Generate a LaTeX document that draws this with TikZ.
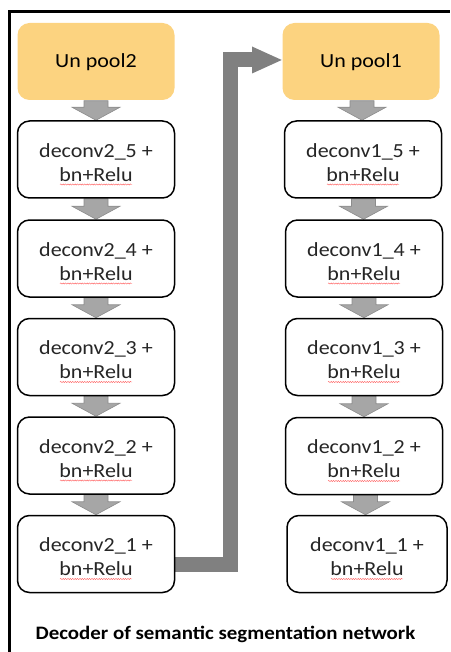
\documentclass[tikz,border=0pt]{standalone}
\usepackage{fontspec}
\setmainfont{Carlito}[FakeStretch=1.1]
\usetikzlibrary{calc,backgrounds,decorations.pathmorphing}
\definecolor{pool}{RGB}{252,211,128}
\definecolor{txt}{RGB}{38,38,38}
\definecolor{sarrow}{RGB}{166,166,166}
\definecolor{sarrowline}{RGB}{140,140,140}
\definecolor{barrow}{RGB}{128,128,128}
\newcommand\dnarrow[2]{%
  \filldraw[smallarrow] let \p1=(#1.south), \p2=(#2.north), \p3=($(#1.south)!0.5!(#2.north)$) in
   (\x3-12pt,\y1) -- (\x3+12pt,\y1) -- (\x3+12pt,\y2+13pt) -- (\x3+24pt,\y2+13pt)
   -- (\x3,\y2) -- (\x3-24pt,\y2+13pt) -- (\x3-12pt,\y2+13pt) -- cycle;}
\newcommand\twolines[2]{\rule{0pt}{20pt}#1\\#2}
\begin{document}
\begin{tikzpicture}[x=1pt,y=-1pt,
  box/.style={draw=black, line width=1.5pt, rounded corners=12pt, fill=white,
    minimum width=157pt, minimum height=77pt, inner sep=0pt, align=center,
    text=txt, font=\fontsize{20}{24}\selectfont},
  poolbox/.style={box, draw=none, fill=pool, text=black},
  smallarrow/.style={fill=sarrow, draw=sarrowline, line width=0.6pt},
  bigshaft/.style={draw=barrow, line width=15pt, line join=miter},
  squig/.style={draw=red!65, line width=0.4pt, decorate,
    decoration={snake, amplitude=0.6pt, segment length=2.4pt}}]
\useasboundingbox (0,0) rectangle (450,652);
\draw[line width=3pt, line join=miter] (9,652) -- (9,11.5) -- (450,11.5);
% left column
\node[poolbox] (u2) at (96,61.5) {\rule{0pt}{16pt}Un pool2};
\node[box] (a5) at (96,159.5) {\twolines{deconv2\_5 +}{bn+Relu}};
\node[box] (a4) at (96,258.5) {\twolines{deconv2\_4 +}{bn+Relu}};
\node[box] (a3) at (96,357) {\twolines{deconv2\_3 +}{bn+Relu}};
\node[box] (a2) at (96,455.5) {\twolines{deconv2\_2 +}{bn+Relu}};
\node[box] (a1) at (96,554) {\twolines{deconv2\_1 +}{bn+Relu}};
% right column
\node[poolbox] (u1) at (361,61.5) {\rule{0pt}{16pt}Un pool1};
\node[box] (b5) at (363,159.5) {\twolines{deconv1\_5 +}{bn+Relu}};
\node[box] (b4) at (364,258.5) {\twolines{deconv1\_4 +}{bn+Relu}};
\node[box] (b3) at (364,357) {\twolines{deconv1\_3 +}{bn+Relu}};
\node[box] (b2) at (364,456) {\twolines{deconv1\_2 +}{bn+Relu}};
\node[box, minimum width=160pt] (b1) at (367,554) {\twolines{deconv1\_1 +}{bn+Relu}};
% spell-check squiggles
\foreach \n in {a5,a4,a3,a2,a1,b5,b4,b3,b2,b1}
  \draw[squig] ($(\n.center)+(-36,25)$) -- ++(72,0);
% caption
\node[font=\bfseries\fontsize{19}{23}\selectfont, anchor=base] (cap) at (225.5,639.3)
  {Decoder of semantic segmentation network};
\begin{scope}[on background layer]
  \dnarrow{u2}{a5}\dnarrow{a5}{a4}\dnarrow{a4}{a3}\dnarrow{a3}{a2}\dnarrow{a2}{a1}
  \dnarrow{u1}{b5}\dnarrow{b5}{b4}\dnarrow{b4}{b3}\dnarrow{b3}{b2}\dnarrow{b2}{b1}
  \coordinate (bend) at (230,60);
  \coordinate (hb) at (253,60);
  \draw[bigshaft] ([yshift=-10pt]a1.east) -| (bend) -- (hb);
  \fill[barrow] (252,46.5) -- ([yshift=1.5pt]u1.west) -- (252,73.5) -- cycle;
\end{scope}
\end{tikzpicture}
\end{document}
